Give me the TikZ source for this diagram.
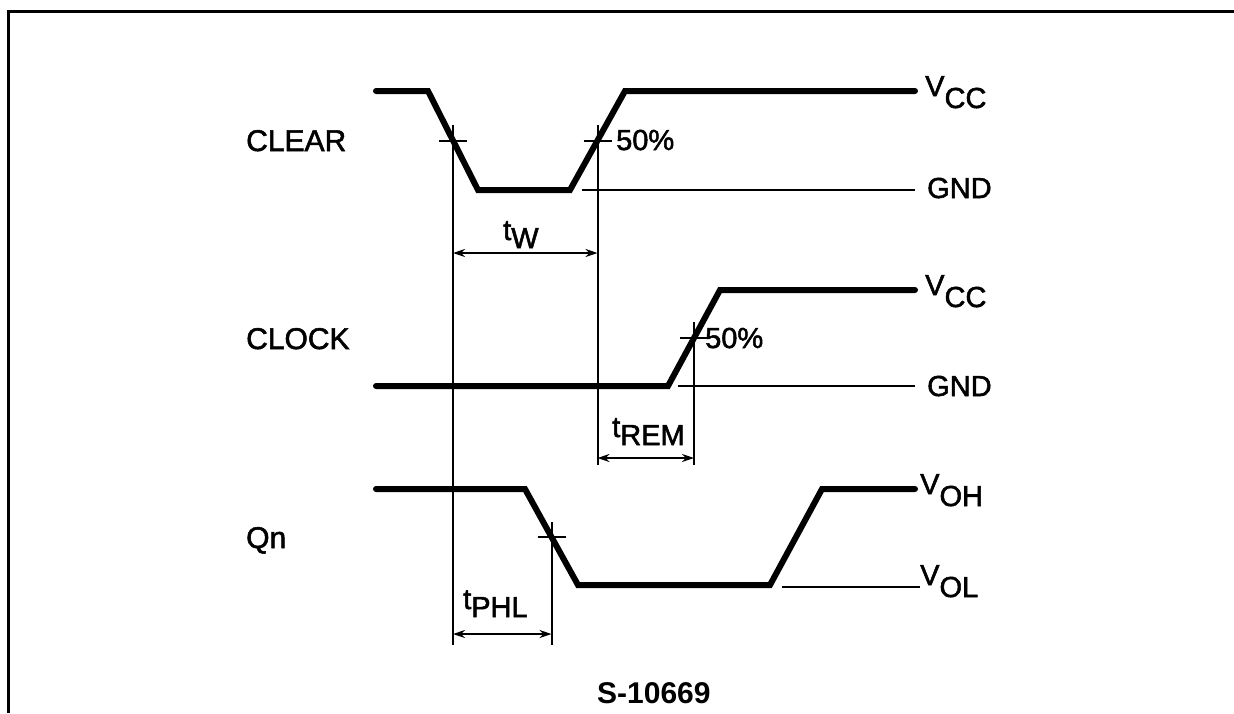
\documentclass[tikz,border=0pt]{standalone}
\usepackage{fontspec}
\setmainfont{Liberation Sans}
\newfontfamily\hvy{Liberation Sans}[FakeBold=1.8]
\usetikzlibrary{arrows.meta}
\begin{document}
\begin{tikzpicture}[x=1pt,y=-1pt,
  wave/.style={line width=6pt,line join=miter,line cap=round},
  thin/.style={line width=2pt},
  tickln/.style={line width=2pt},
  dim/.style={line width=2pt,{Stealth[length=12pt,width=8pt]}-{Stealth[length=12pt,width=8pt]}},
  lbl/.style={anchor=base west,inner sep=0pt,font=\hvy\fontsize{29}{30}\selectfont},
  sig/.style={anchor=base west,inner sep=0pt,font=\hvy\fontsize{30}{31}\selectfont}]
\useasboundingbox (0,0) rectangle (1234,713);
% frame
\draw[line width=3pt] (8,713) -- (8,11) -- (1234,11);

% CLEAR
\coordinate (c0) at (376,91); \coordinate (c1) at (428,91);
\coordinate (c2) at (478,190); \coordinate (c3) at (570,190);
\coordinate (c4) at (625,91); \coordinate (c5) at (915,91);
\draw[wave] (c0) -- (c1) -- (c2) -- (c3) -- (c4) -- (c5);
\coordinate (cg0) at (582,190); \coordinate (cg1) at (915,190);
\draw[thin] (cg0) -- (cg1);
\coordinate (cf) at (453,140.5); \coordinate (cr) at (597.5,140.5);
\draw[tickln] ([xshift=-14pt]cf) -- ([xshift=14pt]cf);
\draw[tickln] ([xshift=-14pt]cr) -- ([xshift=14pt]cr);

% CLOCK
\coordinate (k0) at (376,386); \coordinate (k1) at (668,386);
\coordinate (k2) at (720,290); \coordinate (k3) at (915,290);
\draw[wave] (k0) -- (k1) -- (k2) -- (k3);
\coordinate (kg0) at (678,386); \coordinate (kg1) at (915,386);
\draw[thin] (kg0) -- (kg1);
\coordinate (kr) at (694,338);
\draw[tickln] ([xshift=-14pt]kr) -- ([xshift=14pt]kr);

% Qn
\coordinate (q0) at (376,489); \coordinate (q1) at (525,489);
\coordinate (q2) at (578,585); \coordinate (q3) at (770,585);
\coordinate (q4) at (822,489); \coordinate (q5) at (915,489);
\draw[wave] (q0) -- (q1) -- (q2) -- (q3) -- (q4) -- (q5);
\coordinate (qg0) at (782,587); \coordinate (qg1) at (920,587);
\draw[thin] (qg0) -- (qg1);
\coordinate (qf) at (551.5,537);
\draw[tickln] ([xshift=-14pt]qf) -- ([xshift=14pt]qf);

% vertical reference lines
\coordinate (v1t) at (453,125); \coordinate (v1b) at (453,645);
\coordinate (v2t) at (597.5,125); \coordinate (v2b) at (597.5,465);
\coordinate (v3t) at (694,322); \coordinate (v3b) at (694,465);
\coordinate (v4t) at (551.5,522); \coordinate (v4b) at (551.5,645);
\draw[thin] (v1t) -- (v1b);
\draw[thin] (v2t) -- (v2b);
\draw[thin] (v3t) -- (v3b);
\draw[thin] (v4t) -- (v4b);

% dimension arrows
\coordinate (tw0) at (453,253); \coordinate (tw1) at (597.5,253);
\coordinate (tr0) at (597.5,458); \coordinate (tr1) at (694,458);
\coordinate (tp0) at (453,634); \coordinate (tp1) at (551.5,634);
\draw[dim] (tw0) -- (tw1);
\draw[dim] (tr0) -- (tr1);
\draw[dim] (tp0) -- (tp1);

% labels
\node[sig] (lclr) at (246,151) {CLEAR};
\node[sig] (lclk) at (246,349) {CLOCK};
\node[sig] (lqn) at (246,548) {Qn};
\node[lbl] (vcc1) at (925,96) {V\raisebox{-12pt}{CC}};
\node[lbl] (gnd1) at (927,198) {GND};
\node[lbl] (p1) at (616,150) {50\%};
\node[lbl] (vcc2) at (925,295) {V\raisebox{-12pt}{CC}};
\node[lbl] (p2) at (705,348) {50\%};
\node[lbl] (gnd2) at (927,396) {GND};
\node[lbl] (voh) at (920,494) {V\raisebox{-12pt}{OH}};
\node[lbl] (vol) at (920,585) {V\raisebox{-12pt}{OL}};
\node[lbl] (tw) at (503,240) {t\raisebox{-8pt}{W}};
\node[lbl] (trem) at (612,437) {t\raisebox{-8pt}{REM}};
\node[lbl] (tphl) at (463,609) {t\raisebox{-8pt}{PHL}};
\node[anchor=base west,inner sep=0pt,font=\fontsize{30}{31}\selectfont\bfseries] (sn) at (597,703) {S-10669};
\end{tikzpicture}
\end{document}
